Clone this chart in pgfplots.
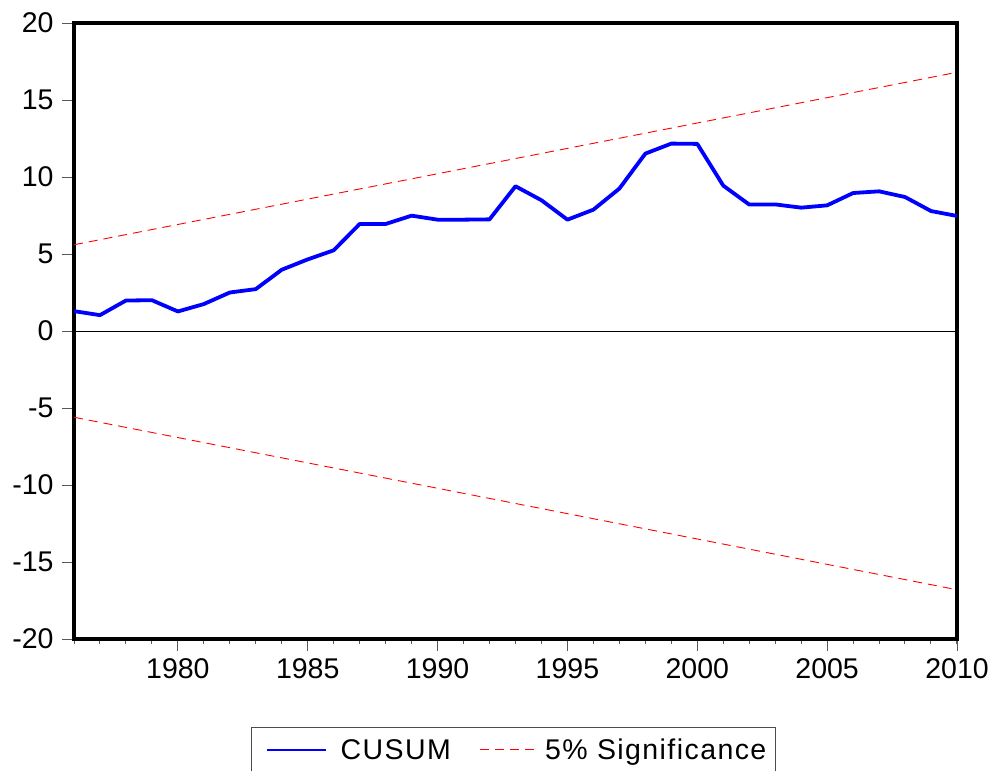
\documentclass[border=0pt]{standalone}
\usepackage{pgfplots}
\pgfplotsset{compat=1.18}
\usepackage{fontspec}
\setmainfont{Liberation Sans}
\definecolor{cusumblue}{RGB}{0,0,255}
\definecolor{sigred}{RGB}{255,0,0}
\begin{document}
\begin{tikzpicture}
\path[use as bounding box] (0bp,0bp) rectangle (993bp,-771bp);
\begin{axis}[
  at={(74bp,-639bp)}, anchor=south west,
  width=883bp, height=616bp, scale only axis,
  xmin=1976, xmax=2010, ymin=-20, ymax=20,
  xtick={1980,1985,...,2010},
  minor xtick={1976,...,2010},
  ytick={-20,-15,...,20},
  xtick pos=lower, ytick pos=left,
  tick align=outside,
  major tick length=12bp, minor tick length=5bp,
  every tick/.style={gray!70!black, line width=1bp},
  axis line style={line width=3.5bp},
  /pgf/number format/assume math mode=true,
  /pgf/number format/1000 sep={},
  tick label style={font=\fontsize{28.5bp}{34bp}\selectfont},
  yticklabel style={xshift=-5bp},
  xticklabel style={yshift=-4bp},
  legend columns=2,
  legend cell align=left,
  legend image code/.code={\path (0bp,0bp); \draw[#1] (11bp,0bp) -- (70bp,0bp);},
  legend style={at={(0.4975,-0.1435)}, anchor=north, draw=gray!60!black, line width=0.8bp,
    font=\fontsize{28.5bp}{34bp}\selectfont\addfontfeature{LetterSpace=5},
    inner xsep=4bp, inner ysep=9bp,
    nodes={inner xsep=5bp},
    /tikz/every even column/.append style={column sep=13bp}},
]
\addlegendimage{draw=cusumblue, color=cusumblue, line width=1.5bp}
\addlegendentry{\hspace{9bp}CUSUM}
\addlegendimage{draw=sigred, color=sigred, line width=1.2bp, dash pattern=on 9bp off 6bp}
\addlegendentry{5\% Significance}
\addplot[color=cusumblue, line width=3.8bp, line join=round, forget plot] coordinates {
(1976,1.29)(1977,1.03)(1978,1.98)(1979,2.00)(1980,1.27)(1981,1.75)(1982,2.50)(1983,2.72)
(1984,3.98)(1985,4.65)(1986,5.24)(1987,6.95)(1988,6.95)(1989,7.49)(1990,7.23)(1991,7.23)
(1992,7.25)(1993,9.40)(1994,8.49)(1995,7.23)(1996,7.88)(1997,9.25)(1998,11.52)(1999,12.17)
(2000,12.15)(2001,9.44)(2002,8.21)(2003,8.22)(2004,8.01)(2005,8.16)(2006,8.96)(2007,9.07)
(2008,8.70)(2009,7.79)(2010,7.47)};
\addplot[color=sigred, line width=0.9bp, dash pattern=on 9bp off 6bp, forget plot] coordinates {(1976,5.6)(2010,16.8)};
\addplot[color=sigred, line width=0.9bp, dash pattern=on 9bp off 6bp, forget plot] coordinates {(1976,-5.6)(2010,-16.8)};
\addplot[black, line width=1bp, forget plot] coordinates {(1976,0)(2010,0)};
\end{axis}
\end{tikzpicture}
\end{document}
